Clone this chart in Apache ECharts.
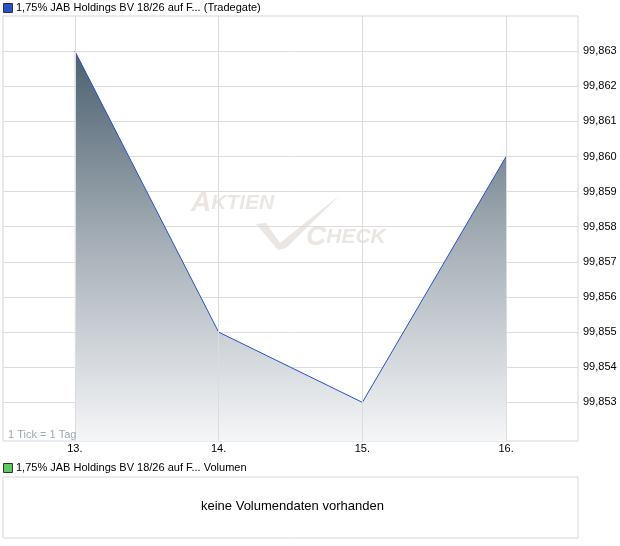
<!DOCTYPE html>
<html><head><meta charset="utf-8">
<script src="https://cdn.jsdelivr.net/npm/echarts@6/dist/echarts.min.js"></script>
<style>html,body{margin:0;padding:0;background:#fff}#c{width:620px;height:546px}</style>
</head><body><div id="c"></div>
<script>
var categories = ['13.', '14.', '15.', '16.'];
var prices = [99.863, 99.855, 99.853, 99.860];
var yTicks = [99.853, 99.854, 99.855, 99.856, 99.857, 99.858, 99.859, 99.860, 99.861, 99.862, 99.863];
var priceTitle = '1,75% JAB Holdings BV 18/26 auf F... (Tradegate)';
var volumeTitle = '1,75% JAB Holdings BV 18/26 auf F... Volumen';
var noVolumeText = 'keine Volumendaten vorhanden';
var tickNote = '1 Tick = 1 Tag';

var chart = echarts.init(document.getElementById('c'), null, {renderer: 'canvas'});
var font = 'Liberation Sans, Arial, sans-serif';
var wm = '#ebe6e1';
chart.setOption({
  animation: false,
  textStyle: {fontFamily: font},
  grid: [
    {left: 3, top: 16, width: 575, height: 425, show: true, borderColor: '#d6d6d6', borderWidth: 1, backgroundColor: 'transparent'},
    {left: 3, top: 477, width: 575, height: 61, show: true, borderColor: '#d6d6d6', borderWidth: 1}
  ],
  xAxis: [
    {type: 'category', gridIndex: 0, data: categories, boundaryGap: true,
     axisLine: {show: false}, axisTick: {show: false},
     axisLabel: {color: '#000', fontSize: 11, margin: 2, fontFamily: font},
     splitLine: {show: false}},
    {type: 'value', gridIndex: 1, show: false}
  ],
  yAxis: [
    {type: 'value', gridIndex: 0, position: 'right', min: 99.8519, max: 99.864, scale: true,
     axisLine: {show: false},
     axisTick: {show: false, customValues: yTicks},
     axisLabel: {customValues: yTicks, color: '#000', fontSize: 11, margin: 5, fontFamily: font,
       formatter: function (v) { return v.toFixed(3).replace('.', ','); }},
     splitLine: {show: true, lineStyle: {color: '#dcdcdc', width: 1}}},
    {type: 'value', gridIndex: 1, show: false}
  ],
  series: [
    {type: 'line', xAxisIndex: 0, yAxisIndex: 0, data: prices, symbol: 'none',
     lineStyle: {color: '#2454c8', width: 1},
     areaStyle: {origin: 'start', opacity: 1,
       color: new echarts.graphic.LinearGradient(0, 0, 0, 1, [
         {offset: 0, color: '#4b606f'},
         {offset: 0.5, color: '#a7b0b8'},
         {offset: 1, color: '#f5f6f8'}
       ])},
     z: 2},
    {type: 'line', xAxisIndex: 0, yAxisIndex: 0, data: [], markLine: {
      silent: true, symbol: 'none', label: {show: false},
      lineStyle: {color: '#dcdcdc', type: 'solid', width: 1},
      data: categories.map(function (c) { return {xAxis: c}; })
    }, z: 1}
  ],
  graphic: [
    {type: 'rect', left: 3, top: 3, shape: {width: 9, height: 9}, style: {fill: '#2454c8', stroke: '#333', lineWidth: 1}},
    {type: 'text', left: 16, top: 2, style: {text: priceTitle, font: '11px ' + font, fill: '#000'}},
    {type: 'rect', left: 3, top: 463, shape: {width: 9, height: 9}, style: {fill: '#5ec95e', stroke: '#333', lineWidth: 1}},
    {type: 'text', left: 16, top: 462, style: {text: volumeTitle, font: '11px ' + font, fill: '#000'}},
    {type: 'text', left: 201, top: 500, style: {text: noVolumeText, font: '13px ' + font, fill: '#000'}},
    {type: 'text', left: 8, top: 429, z: 10, style: {text: tickNote, font: '11px ' + font, fill: '#9aa9bb'}},
    {type: 'text', left: 191, top: 189, z: 0, style: {
      rich: {a: {font: 'italic bold 28px ' + font, fill: wm}, b: {font: 'italic bold 21px ' + font, fill: wm}},
      text: '{a|A}{b|KTIEN}'}},
    {type: 'text', left: 306, top: 223, z: 0, style: {
      rich: {a: {font: 'italic bold 28px ' + font, fill: wm}, b: {font: 'italic bold 21px ' + font, fill: wm}},
      text: '{a|C}{b|HECK}'}},
    {type: 'polygon', z: 0, shape: {points: [[256, 224], [266, 223], [280, 243], [340, 195], [286, 248], [278, 250]]},
     style: {fill: wm}}
  ]
});
</script></body></html>
